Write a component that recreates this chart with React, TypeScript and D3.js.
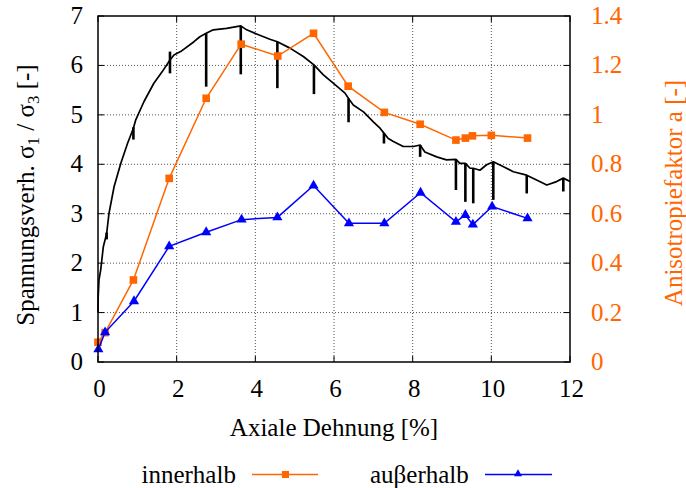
import React from "react";
import * as d3 from "d3";

// ---- data ----
const xTicks = [0, 2, 4, 6, 8, 10, 12];
const yLeftTicks = [0, 1, 2, 3, 4, 5, 6, 7];
const yRightTicks = [0, 0.2, 0.4, 0.6, 0.8, 1.0, 1.2, 1.4];
const yRightLabels = ["0", "0.2", "0.4", "0.6", "0.8", "1", "1.2", "1.4"];

const strainInner = [0, 0.18, 0.9, 1.81, 2.75, 3.64, 4.57, 5.48, 6.36, 7.28, 8.19, 9.1, 9.34, 9.52, 10.0, 10.92];
const aInnerhalb = [0.08, 0.119, 0.332, 0.743, 1.067, 1.286, 1.238, 1.33, 1.116, 1.01, 0.962, 0.898, 0.906, 0.915, 0.917, 0.906];

const strainOuter = [0.01, 0.18, 0.915, 1.81, 2.75, 3.65, 4.56, 5.48, 6.38, 7.28, 8.2, 9.1, 9.34, 9.53, 10.02, 10.92];
const aAusserhalb = [0.051, 0.12, 0.246, 0.468, 0.525, 0.576, 0.585, 0.714, 0.561, 0.561, 0.685, 0.567, 0.595, 0.556, 0.629, 0.581];

// stress ratio curve [strain %, sigma1/sigma3]
const ratioCurve: [number, number][] = [
  [0, 1.0], [0.005, 1.32], [0.025, 1.66], [0.068, 1.86], [0.135, 2.33], [0.22, 2.6],
  [0.28, 3.01], [0.41, 3.55], [0.58, 4.02], [0.75, 4.42], [0.9, 4.73], [0.96, 4.9],
  [1.17, 5.27], [1.42, 5.64], [1.63, 5.87], [1.83, 6.11], [1.93, 6.21], [2.1, 6.28],
  [2.44, 6.48], [2.59, 6.58], [2.75, 6.65], [2.93, 6.72], [3.27, 6.75], [3.63, 6.8],
  [3.78, 6.72], [4.08, 6.62], [4.37, 6.53], [4.56, 6.48], [4.88, 6.35], [5.22, 6.18],
  [5.49, 6.01], [5.73, 5.81], [5.98, 5.64], [6.28, 5.44], [6.37, 5.33], [6.49, 5.2],
  [6.75, 5.06], [7.0, 4.86], [7.17, 4.73], [7.27, 4.63], [7.38, 4.52], [7.51, 4.46],
  [7.76, 4.36], [8.02, 4.36], [8.19, 4.39], [8.31, 4.25], [8.61, 4.15], [8.86, 4.09],
  [9.1, 4.1], [9.2, 4.02], [9.34, 4.02], [9.46, 3.92], [9.54, 3.92], [9.71, 3.88],
  [9.88, 3.99], [10.05, 4.05], [10.31, 3.95], [10.56, 3.85], [10.9, 3.78], [11.15, 3.68],
  [11.41, 3.58], [11.66, 3.65], [11.83, 3.72], [12.0, 3.65],
];

// unloading spikes [strain, top, bottom]
const spikes: [number, number, number][] = [
  [0.22, 2.62, 2.48], [0.9, 4.75, 4.5], [1.83, 6.28, 5.84], [2.75, 6.65, 5.57],
  [3.63, 6.8, 5.82], [4.56, 6.48, 5.54], [5.49, 6.01, 5.42], [6.37, 5.33, 4.85],
  [7.27, 4.63, 4.42], [8.19, 4.39, 4.15], [9.1, 4.1, 3.48], [9.34, 4.02, 3.24],
  [9.54, 3.92, 3.21], [10.05, 4.05, 3.28], [10.9, 3.78, 3.41], [11.83, 3.72, 3.45],
];

const ORANGE = "#ff6600";
const BLUE = "#0000ff";
const FONT = "'Liberation Serif', 'Times New Roman', serif";
const FS = 25;

export default function App() {
  const W = 686, H = 488;
  const L = 98, R = 570, T = 16, B = 362;
  const x = d3.scaleLinear().domain([0, 12]).range([L, R]);
  const yL = d3.scaleLinear().domain([0, 7]).range([B, T]);
  const yR = d3.scaleLinear().domain([0, 1.4]).range([B, T]);

  const curve = d3.line<[number, number]>().x(d => x(d[0])).y(d => yL(d[1]))(ratioCurve) || "";
  const innerPts = strainInner.map((s, i) => [s, aInnerhalb[i]] as [number, number]);
  const outerPts = strainOuter.map((s, i) => [s, aAusserhalb[i]] as [number, number]);
  const lineR = d3.line<[number, number]>().x(d => x(d[0])).y(d => yR(d[1]));
  const tri = d3.symbol().type(d3.symbolTriangle).size(45)() || "";
  const triSmall = d3.symbol().type(d3.symbolTriangle).size(28)() || "";

  const tickLen = 6;
  const ts = { fontFamily: FONT };

  return (
    <div style={{ position: "absolute", left: 0, top: 0 }}>
      <svg width={W} height={H} style={{ display: "block", background: "#fff", fontFamily: FONT }}>
        {/* grid */}
        <g stroke="#555" strokeWidth={1} strokeDasharray="1,2">
          {xTicks.slice(1, -1).map(t => (
            <line key={"gx" + t} x1={x(t)} x2={x(t)} y1={T} y2={B} />
          ))}
          {yLeftTicks.slice(1, -1).map(t => (
            <line key={"gy" + t} x1={L} x2={R} y1={yL(t)} y2={yL(t)} />
          ))}
        </g>
        {/* ticks */}
        <g stroke="#000" strokeWidth={1}>
          {xTicks.map(t => (
            <g key={"tx" + t}>
              <line x1={x(t)} x2={x(t)} y1={B} y2={B - tickLen} />
              <line x1={x(t)} x2={x(t)} y1={T} y2={T + tickLen} />
            </g>
          ))}
          {yLeftTicks.map(t => (
            <line key={"tl" + t} x1={L} x2={L + tickLen} y1={yL(t)} y2={yL(t)} />
          ))}
          {yRightTicks.map(t => (
            <line key={"tr" + t} x1={R} x2={R - tickLen} y1={yR(t)} y2={yR(t)} />
          ))}
        </g>

        {/* stress ratio curve */}
        <path d={curve} fill="none" stroke="#000" strokeWidth={1.7} strokeLinejoin="round" />
        <g stroke="#000" strokeWidth={2.6}>
          {spikes.map((s, i) => (
            <line key={"sp" + i} x1={x(s[0])} x2={x(s[0])} y1={yL(s[1])} y2={yL(s[2])} />
          ))}
        </g>

        {/* innerhalb */}
        <path d={lineR(innerPts) || ""} fill="none" stroke={ORANGE} strokeWidth={1.5} />
        {innerPts.map((p, i) => (
          <rect key={"sq" + i} x={x(p[0]) - 3.8} y={yR(p[1]) - 3.8} width={7.6} height={7.6} fill={ORANGE} />
        ))}

        {/* ausserhalb */}
        <path d={lineR(outerPts) || ""} fill="none" stroke={BLUE} strokeWidth={1.5} />
        {outerPts.map((p, i) => (
          <path key={"tr" + i} d={tri} transform={`translate(${x(p[0])},${yR(p[1])})`} fill={BLUE} />
        ))}

        {/* frame */}
        <rect x={L} y={T} width={R - L} height={B - T} fill="none" stroke="#000" strokeWidth={1.5} />

        {/* x tick labels */}
        <g fontSize={FS} textAnchor="middle" fill="#000">
          {xTicks.map(t => (
            <text key={"lx" + t} style={ts} x={x(t) + 1.5} y={397}>{t}</text>
          ))}
        </g>
        {/* left tick labels */}
        <g fontSize={FS} textAnchor="end" fill="#000">
          {yLeftTicks.map(t => (
            <text key={"ll" + t} style={ts} x={83} y={yL(t) + 8}>{t}</text>
          ))}
        </g>
        {/* right tick labels */}
        <g fontSize={FS} textAnchor="start" fill={ORANGE}>
          {yRightTicks.map((t, i) => (
            <text key={"lr" + t} style={ts} x={591} y={yR(t) + 8}>{yRightLabels[i]}</text>
          ))}
        </g>

        {/* axis titles */}
        <text style={ts} x={(L + R) / 2} y={436} fontSize={FS} textAnchor="middle">Axiale Dehnung [%]</text>
        <text style={ts} transform="translate(33.5,195) rotate(-90)" fontSize={FS} textAnchor="middle">
          Spannungsverh. σ<tspan fontSize={17} dy={5}>1</tspan>
          <tspan dy={-5}> / σ</tspan><tspan fontSize={17} dy={5}>3</tspan>
          <tspan dy={-5}> [-]</tspan>
        </text>
        <text style={ts} transform="translate(682,193) rotate(-90)" fontSize={FS} textAnchor="middle" fill={ORANGE}>
          Anisotropiefaktor a [-]
        </text>

        {/* legend */}
        <text style={ts} x={141.5} y={483} fontSize={FS}>innerhalb</text>
        <line x1={252} x2={318} y1={474.5} y2={474.5} stroke={ORANGE} strokeWidth={1.5} />
        <rect x={285.5 - 3.5} y={474.5 - 3.5} width={7} height={7} fill={ORANGE} />
        <text style={ts} x={370} y={483} fontSize={FS}>auβerhalb</text>
        <line x1={485} x2={552} y1={474.5} y2={474.5} stroke={BLUE} strokeWidth={1.5} />
        <path d={triSmall} transform="translate(518,474)" fill={BLUE} />
      </svg>
    </div>
  );
}
